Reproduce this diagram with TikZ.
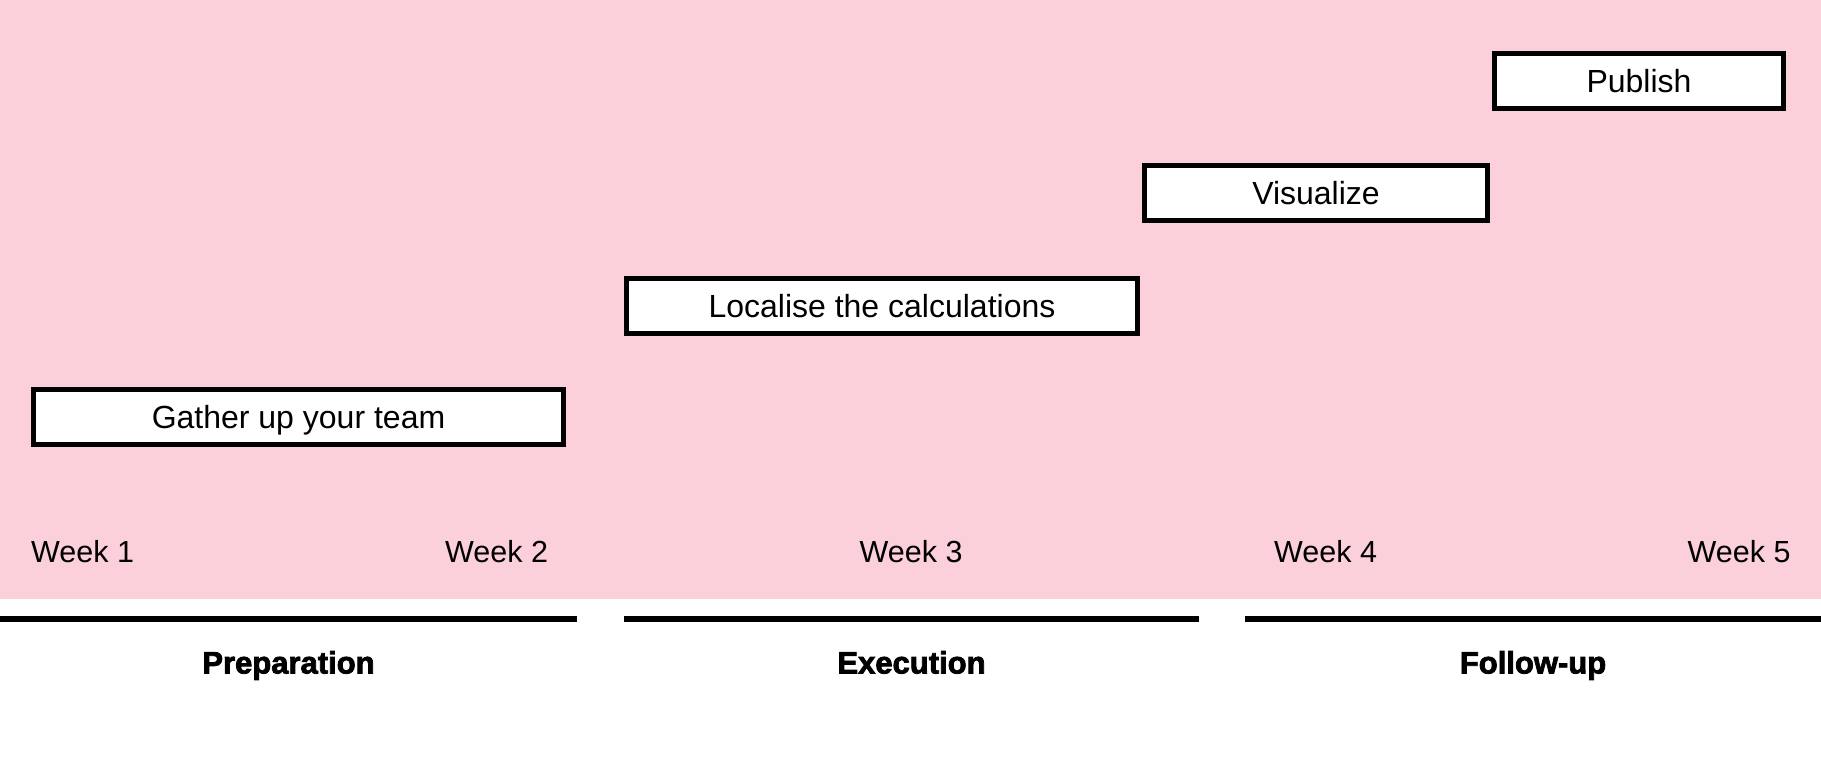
\documentclass[tikz,border=0pt]{standalone}
\usepackage{fontspec}
\setmainfont{Liberation Sans}
\newfontfamily\heavyfont[FakeBold=2.5]{Liberation Sans Bold}
\definecolor{bgpink}{HTML}{FBD0DA}
\begin{document}
\begin{tikzpicture}[x=1pt,y=-1pt,
  task/.style={draw=black, line width=5pt, fill=white, minimum height=55pt, inner sep=0pt, text depth=0pt, font=\fontsize{32}{36}\selectfont},
  week/.style={anchor=base west, inner sep=0pt, font=\fontsize{30.5}{34}\selectfont},
  phase/.style={anchor=base, inner sep=0pt, font=\heavyfont\fontsize{31}{36}\selectfont},
  phaseline/.style={line width=6pt}]
\useasboundingbox (0,0) rectangle (1821,784);
\fill[bgpink] (0,0) rectangle (1821,599);
% tasks
\node[task, minimum width=530pt] (gather) at (298.5,417) {Gather up your team};
\node[task, minimum width=511pt] (localise) at (882,305.5) {Localise the calculations};
\node[task, minimum width=343pt] (visualize) at (1316,193) {Visualize};
\node[task, minimum width=289pt] (publish) at (1639,81) {Publish};
% weeks
\node[week] (w1) at (31,562) {Week 1};
\node[week] (w2) at (445,562) {Week 2};
\node[week] (w3) at (859.5,562) {Week 3};
\node[week] (w4) at (1274,562) {Week 4};
\node[week] (w5) at (1687.5,562) {Week 5};
% phase lines
\coordinate (p1a) at (0,619); \coordinate (p1b) at (577,619);
\coordinate (p2a) at (624,619); \coordinate (p2b) at (1199,619);
\coordinate (p3a) at (1245,619); \coordinate (p3b) at (1821,619);
\draw[phaseline] (p1a) -- (p1b);
\draw[phaseline] (p2a) -- (p2b);
\draw[phaseline] (p3a) -- (p3b);
% phase labels
\node[phase] (prep) at (288.5,673.5) {Preparation};
\node[phase] (exec) at (911.5,673.5) {Execution};
\node[phase] (follow) at (1533,673.5) {Follow-up};
\end{tikzpicture}
\end{document}
